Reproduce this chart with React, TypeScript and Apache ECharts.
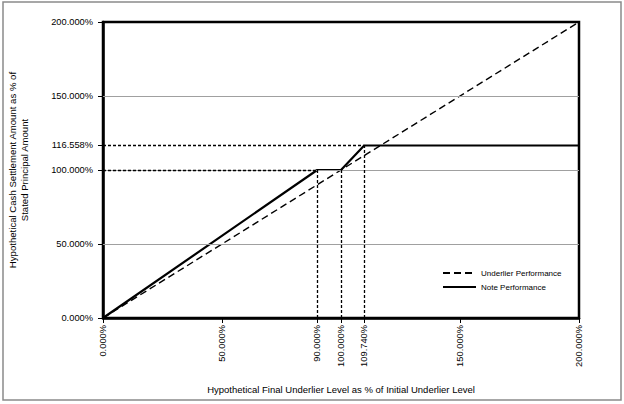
import React, { useEffect, useRef } from "react";
import * as echarts from "echarts";

const xTickValues = [0, 50, 90, 100, 109.74, 150, 200];
const yTickValues = [0, 50, 100, 116.558, 150, 200];
const gridLevels = [50, 100, 150];
const underlierData: [number, number][] = [
  [0, 0],
  [200, 200],
];
const noteData: [number, number][] = [
  [0, 0],
  [90, 100],
  [100, 100],
  [109.74, 116.558],
  [200, 116.558],
];
const guideLines: [number, number, number, number][] = [
  [0, 100, 90, 100],
  [0, 116.558, 109.74, 116.558],
  [90, 0, 90, 100],
  [100, 0, 100, 100],
  [109.74, 0, 109.74, 116.558],
];
const yAxisTitleLines = ["Hypothetical Cash Settlement Amount as % of", "Stated Principal Amount"];
const xAxisTitle = "Hypothetical Final Underlier Level as % of Initial Underlier Level";

const FONT = "'Liberation Sans', Arial, sans-serif";

export default function App() {
  const ref = useRef<HTMLDivElement>(null);
  useEffect(() => {
    document.body.style.margin = "0";
    const chart = echarts.init(ref.current!, null, { renderer: "svg" });
    const fmt = (v: number) => v.toFixed(3) + "%";
    chart.setOption({
      animation: false,
      backgroundColor: "#fff",
      textStyle: { fontFamily: FONT },
      grid: {
        left: 103,
        right: 45,
        top: 22,
        bottom: 86,
        containLabel: false,
        outerBoundsMode: "none",
        show: true,
        borderColor: "#000",
        borderWidth: 2.5,
      },
      graphic: [
        {
          type: "rect",
          shape: { x: 3, y: 2, width: 618, height: 398 },
          style: { fill: "none", stroke: "#8a8a8a", lineWidth: 1.5 },
          silent: true,
        },
        ...yAxisTitleLines.map((t, i) => ({
          type: "text",
          x: 12 + i * 12,
          y: 170,
          rotation: Math.PI / 2,
          silent: true,
          style: {
            text: t,
            align: "center",
            verticalAlign: "middle",
            fontSize: 9.6,
            fontFamily: FONT,
            fill: "#000",
          },
        })),
      ],
      legend: {
        orient: "vertical",
        left: 437,
        top: 264,
        itemWidth: 33,
        itemHeight: 10,
        itemGap: 6,
        itemStyle: { opacity: 0 },
        textStyle: { fontSize: 8, color: "#000", fontFamily: FONT },
        data: ["Underlier Performance", "Note Performance"],
      },
      xAxis: {
        type: "value",
        min: 0,
        max: 200,
        interval: 50,
        name: xAxisTitle,
        nameLocation: "middle",
        nameGap: 66,
        nameTextStyle: { fontSize: 9.5, color: "#000", fontFamily: FONT },
        axisLine: { lineStyle: { color: "#000", width: 2.5 } },
        axisTick: { show: true, length: 5, customValues: xTickValues, lineStyle: { color: "#000", width: 1 } },
        axisLabel: {
          customValues: xTickValues,
          rotate: 90,
          margin: 7,
          fontSize: 9.3,
          color: "#000",
          fontFamily: FONT,
          formatter: fmt,
        },
        splitLine: { show: false },
      },
      yAxis: {
        type: "value",
        min: 0,
        max: 200,
        interval: 50,
        axisLine: { lineStyle: { color: "#000", width: 2.5 } },
        axisTick: { show: true, length: 5, customValues: yTickValues, lineStyle: { color: "#000", width: 1 } },
        axisLabel: {
          customValues: yTickValues,
          margin: 10,
          fontSize: 9.3,
          color: "#000",
          fontFamily: FONT,
          formatter: fmt,
        },
        splitLine: { show: false },
      },
      series: [
        {
          name: "grid",
          type: "line",
          data: [],
          silent: true,
          z: 1,
          markLine: {
            silent: true,
            symbol: "none",
            label: { show: false },
            lineStyle: { color: "#a0a0a0", width: 1, type: "solid" },
            data: gridLevels.map((v) => ({ yAxis: v })),
          },
        },
        {
          name: "guides",
          type: "line",
          data: [],
          silent: true,
          z: 2,
          markLine: {
            silent: true,
            symbol: "none",
            label: { show: false },
            lineStyle: { color: "#000", width: 1.3, type: [3, 2] },
            data: guideLines.map(([x1, y1, x2, y2]) => [
              { coord: [x1, y1] },
              { coord: [x2, y2] },
            ]),
          },
        },
        {
          name: "Underlier Performance",
          type: "line",
          data: underlierData,
          symbol: "none",
          z: 3,
          lineStyle: { color: "#000", width: 1.4, type: [7, 4] },
          itemStyle: { color: "#000" },
        },
        {
          name: "Note Performance",
          type: "line",
          data: noteData,
          symbol: "none",
          z: 4,
          lineStyle: { color: "#000", width: 2.2, type: "solid" },
          itemStyle: { color: "#000" },
        },
      ],
    });
    return () => chart.dispose();
  }, []);
  return (
    <div
      ref={ref}
      style={{ position: "absolute", left: 0, top: 0, width: 624, height: 404 }}
    />
  );
}
